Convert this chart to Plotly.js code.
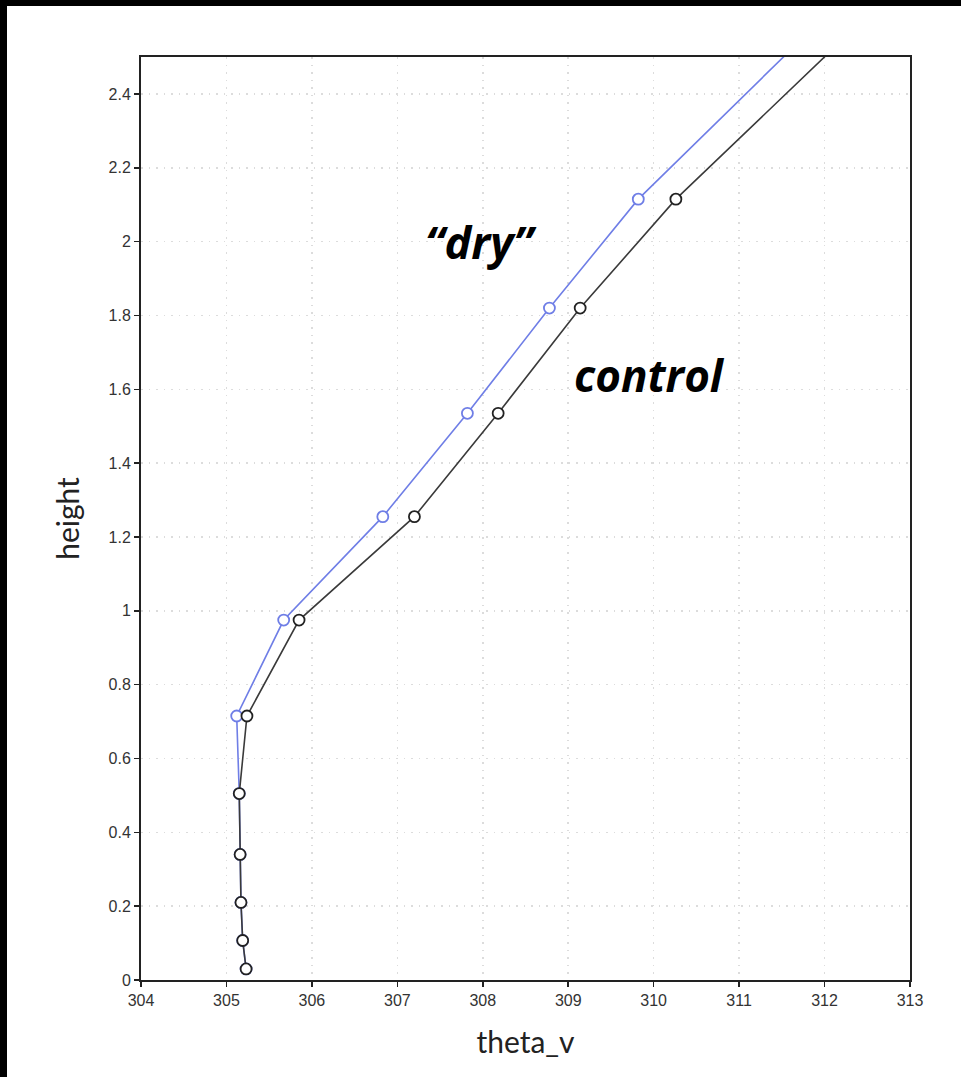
<!DOCTYPE html>
<html>
<head>
<meta charset="utf-8">
<script src="https://cdn.plot.ly/plotly-3.0.1.min.js"></script>
<style>
  html, body { margin: 0; padding: 0; background: #fff; }
  #wrap { position: relative; width: 961px; height: 1077px; overflow: hidden; }
  #chart { position: absolute; left: 0; top: 0; width: 961px; height: 1077px; }
  .bar-top { position: absolute; left: 0; top: 0; width: 961px; height: 6px; background: #000; z-index: 5; }
  .bar-left { position: absolute; left: 0; top: 0; width: 7px; height: 1077px; background: #000; z-index: 5; }
</style>
</head>
<body>
<div id="wrap">
  <div id="chart"></div>
  <div class="bar-top"></div>
  <div class="bar-left"></div>
</div>
<script>
// Heights of model levels
const height = [0.03, 0.107, 0.21, 0.34, 0.505, 0.715, 0.975, 1.255, 1.535, 1.82, 2.115, 2.6];
// theta_v for the control run (black)
const controlTheta = [305.23, 305.19, 305.17, 305.16, 305.15, 305.24, 305.85, 307.20, 308.18, 309.14, 310.26, 312.45];
// theta_v for the "dry" run (blue)
const dryTheta = [305.23, 305.19, 305.17, 305.16, 305.15, 305.12, 305.67, 306.83, 307.82, 308.78, 309.82, 311.96];

const xTicks = [304, 305, 306, 307, 308, 309, 310, 311, 312, 313];
const yTicks = [0, 0.2, 0.4, 0.6, 0.8, 1, 1.2, 1.4, 1.6, 1.8, 2, 2.2, 2.4];
const yTickText = ['0', '0.2', '0.4', '0.6', '0.8', '1', '1.2', '1.4', '1.6', '1.8', '2', '2.2', '2.4'];

const traces = [
  {
    x: dryTheta, y: height, type: 'scatter', mode: 'lines+markers', name: 'dry',
    line: { color: '#6f7ee6', width: 1.6 },
    marker: { symbol: 'circle', size: 11, color: '#ffffff', line: { color: '#6f7ee6', width: 1.8 } },
    cliponaxis: true
  },
  {
    x: controlTheta, y: height, type: 'scatter', mode: 'lines+markers', name: 'control',
    line: { color: '#3a3a3a', width: 1.6 },
    marker: { symbol: 'circle', size: 11, color: '#ffffff', line: { color: '#222222', width: 1.8 } },
    cliponaxis: true
  }
];

const tickFont = { family: '"Liberation Sans Narrow", "Liberation Sans", Arial, sans-serif', size: 16, color: '#333' };
const titleFont = { family: 'Lato, "Open Sans", sans-serif', size: 30, color: '#222' };

const layout = {
  width: 961, height: 1077,
  margin: { l: 141, r: 51, t: 57, b: 97 },
  paper_bgcolor: '#ffffff', plot_bgcolor: '#ffffff',
  showlegend: false,
  xaxis: {
    range: [304, 313], tickmode: 'array', tickvals: xTicks, ticktext: xTicks.map(String),
    ticks: 'outside', ticklen: 5, tickwidth: 1.5, tickcolor: '#222',
    showline: true, linecolor: '#222', linewidth: 2, mirror: true,
    showgrid: true, gridcolor: '#dcdcdc', gridwidth: 1.5, griddash: '1.5px,6px',
    zeroline: false, tickfont: tickFont,
    title: { text: 'theta_v', font: titleFont, standoff: 24 }
  },
  yaxis: {
    range: [0, 2.5], tickmode: 'array', tickvals: yTicks, ticktext: yTickText,
    ticks: 'outside', ticklen: 5, tickwidth: 1.5, tickcolor: '#222',
    showline: true, linecolor: '#222', linewidth: 2, mirror: true,
    showgrid: true, gridcolor: '#dcdcdc', gridwidth: 1.5, griddash: '1.5px,6px',
    zeroline: false, tickfont: tickFont,
    title: { text: 'height', font: titleFont, standoff: 20 }
  },
  annotations: [
    {
      xref: 'x', yref: 'y', x: 307.98, y: 2.0, text: '<b><i>\u201cdry\u201d</i></b>',
      showarrow: false, font: { family: '"Open Sans", "Noto Sans", sans-serif', size: 45, color: '#000' }
    },
    {
      xref: 'x', yref: 'y', x: 309.95, y: 1.64, text: '<b><i>control</i></b>',
      showarrow: false, font: { family: '"Open Sans", "Noto Sans", sans-serif', size: 44, color: '#000' }
    }
  ]
};

Plotly.newPlot('chart', traces, layout, { displayModeBar: false, staticPlot: true });
</script>
</body>
</html>
